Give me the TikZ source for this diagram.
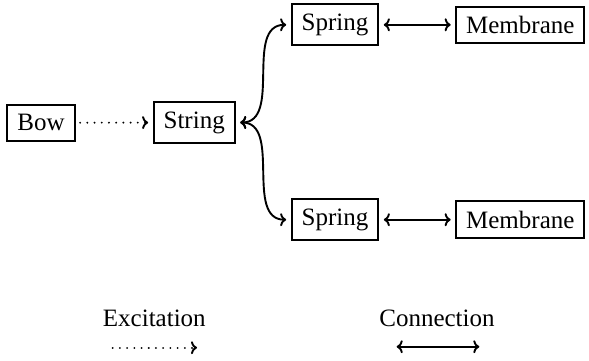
\documentclass[tikz,border=0pt]{standalone}
\usepackage{fontspec}
\setmainfont{Liberation Serif}
\usetikzlibrary{arrows.meta}
\begin{document}
\begin{tikzpicture}[x=1pt,y=-1pt,
  font=\fontsize{25}{30}\selectfont,
  >={To[length=6pt,width=13pt,line width=1.9pt]},
  block/.style={draw,line width=2pt,inner xsep=10pt,inner ysep=9.5pt,outer sep=5.5pt},
  link/.style={line width=1.9pt},
  excite/.style={link,dash pattern=on 0.01pt off 7.2pt,line cap=round,line width=2.1pt},
  label/.style={inner sep=0pt}]
  \useasboundingbox (0,0) rectangle (589,360);

  % instrument chain
  \node[block] (bow)    at (41,122.8)    {Bow};
  \node[block] (string) at (194.2,122.5) {String};
  \node[block] (springA)   at (335,24.8)    {Spring};
  \node[block] (membraneA) at (520.3,24.8)  {Membrane};
  \node[block] (springB)   at (335,219.7)   {Spring};
  \node[block] (membraneB) at (520.3,219.7) {Membrane};

  \draw[excite,->] (bow) -- (string);
  \draw[link,<->] (string.east) to[out=0,in=180] (springA.west);
  \draw[link,<->] (string.east) to[out=0,in=180] (springB.west);
  \draw[link,<->] (springA) -- (membraneA);
  \draw[link,<->] (springB) -- (membraneB);

  % legend
  \node[label] (exlabel) at (154.3,318.3) {Excitation};
  \node[label] (colabel) at (437,318.5)   {Connection};
  \coordinate (exA) at (112.7,347.7);
  \coordinate (exB) at (197,347.7);
  \coordinate (coA) at (396.7,346.7);
  \coordinate (coB) at (479.3,346.7);
  \draw[excite,->] (exA) -- (exB);
  \draw[link,<->] (coA) -- (coB);
\end{tikzpicture}
\end{document}
